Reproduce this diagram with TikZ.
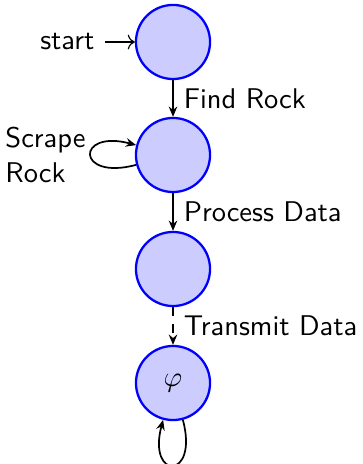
\documentclass[tikz,border=0pt]{standalone}
\usetikzlibrary{arrows.meta}
\tikzset{
  statebox/.style={circle, draw=blue, fill=blue!20, line width=0.8pt,
    minimum size=26pt, inner sep=0pt},
  trans/.style={semithick, -{Stealth[length=3.6pt,width=3pt,inset=1.2pt]}},
  lbl/.style={font=\sffamily},
}
\begin{document}
\begin{tikzpicture}[x=0.351pt, y=-0.351pt]
  \useasboundingbox (0,0) rectangle (362,464);

  % states, top to bottom
  \node[statebox] (s1) at (173,42) {};
  \node[statebox] (s2) at (173,155) {};
  \node[statebox] (s3) at (173,269) {};
  \node[statebox] (s4) at (173,383) {$\varphi$};

  % initial marker
  \node[lbl, anchor=east, inner sep=0pt] (start) at (95,42) {start};
  \draw[thin, ->, shorten <=10pt/2.85] (start.east) -- (s1);

  % transitions
  \draw[trans] (s1) -- node[lbl, right, inner sep=3.5pt] {Find Rock} (s2);
  \draw[trans] (s2) -- node[lbl, right, inner sep=3.5pt] {Process Data} (s3);
  \draw[trans, dashed] (s3) -- node[lbl, right, inner sep=3.5pt] {Transmit Data} (s4);

  % self loops
  \draw[trans] (s2) to[out=195, in=165, distance=22pt]
    node[lbl, left, align=left, inner sep=1.5pt] {Scrape\\Rock} (s2);
  \draw[trans] (s4) to[out=285, in=255, distance=22pt] (s4);
\end{tikzpicture}
\end{document}
